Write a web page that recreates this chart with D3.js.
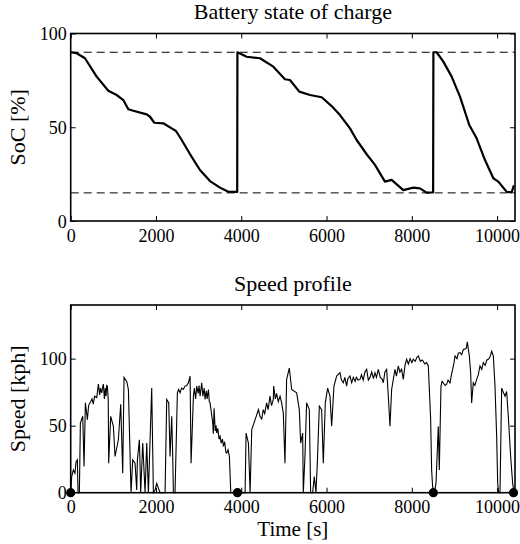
<!DOCTYPE html>
<html>
<head>
<meta charset="utf-8">
<script src="https://cdn.jsdelivr.net/npm/d3@7"></script>
<style>
  body { margin: 0; background: #fff; }
  svg { display: block; }
  text { font-family: "Liberation Serif", "Times New Roman", serif; fill: #000; }
</style>
</head>
<body>
<svg id="chart" width="520" height="544"></svg>
<script>
// state of charge [%], as [time s, soc]
const socPoints = [[0, 90], [140, 89.5], [335, 86.8], [609, 77], [882, 69.5], [1078, 67.2],
  [1234, 64.5], [1351, 59.6], [1468, 58.8], [1782, 56.9], [1860, 55.6], [1961, 52.4], [2172, 52.1],
  [2368, 49.4], [2469, 48], [2603, 43.2], [2797, 35.7], [3032, 27.2], [3267, 21.3], [3501, 17.8],
  [3697, 15.6], [3905, 15.5], [3910, 90], [4126, 87.6], [4439, 86.8], [4752, 82.3], [5025, 75.6],
  [5142, 75.2], [5361, 69], [5612, 67.2], [5886, 66], [6120, 61.3], [6315, 56.5], [6550, 49.4],
  [6706, 43.2], [6941, 35.6], [7136, 29.9], [7370, 21], [7527, 21.9], [7800, 16.5], [8034, 17.8],
  [8191, 17.4], [8348, 15.1], [8500, 15.3], [8506, 90], [8582, 90], [8739, 85], [8934, 77],
  [9130, 66.3], [9348, 51.2], [9520, 44.1], [9716, 32.5], [9912, 22.8], [10029, 21], [10224, 15.6],
  [10341, 15.3], [10395, 19]];
const socBounds = [90, 15];

// vehicle speed [kph], as [time s, speed]
const speedPoints = [[0, 0], [23, 12], [63, 17], [100, 14.5], [125, 23], [156, 24.5], [172, 0],
  [203, 0], [227, 52], [282, 57], [313, 19.5], [344, 67], [391, 54.5], [420, 65], [454, 67],
  [500, 70], [530, 66], [560, 72], [610, 71], [630, 76], [649, 81], [680, 73], [700, 78],
  [727, 74.5], [750, 79], [766, 81], [790, 70], [810, 78], [829, 72], [845, 80], [860, 79.5],
  [880, 70], [891, 22], [938, 57], [1001, 49.5], [1040, 27], [1118, 39.5], [1173, 66], [1220, 14.5],
  [1251, 86], [1314, 83], [1353, 77], [1415, 0], [1454, 24.5], [1509, 22], [1548, 2], [1564, 24.5],
  [1611, 39.5], [1642, 0], [1689, 37], [1744, 0], [1783, 37], [1822, 0], [1900, 78], [1939, 0],
  [1978, 2], [2017, 7], [2096, 0], [2213, 0], [2252, 69.5], [2299, 67], [2330, 27], [2369, 57],
  [2393, 27], [2408, 0], [2447, 0], [2502, 74.5], [2530, 77], [2565, 74.5], [2600, 78], [2640, 77],
  [2682, 79.5], [2720, 80], [2760, 82], [2800, 87], [2823, 22], [2878, 72], [2900, 78], [2930, 70],
  [2956, 79.5], [2990, 74], [3010, 80], [3034, 72], [3073, 82], [3100, 72], [3130, 78],
  [3151, 69.5], [3180, 76], [3200, 70], [3230, 77], [3250, 68], [3269, 67], [3331, 52], [3345, 44],
  [3363, 63], [3390, 46], [3410, 50], [3425, 44.5], [3450, 48], [3480, 40], [3503, 42], [3530, 37],
  [3560, 40], [3582, 34.5], [3610, 38], [3640, 30], [3660, 29.5], [3690, 32], [3722, 27],
  [3754, 0], [4090, 0], [4113, 44.5], [4168, 37], [4207, 0], [4246, 47], [4325, 54.5], [4403, 62],
  [4439, 57], [4480, 55], [4517, 62], [4550, 59], [4595, 67], [4630, 62], [4674, 72], [4710, 65],
  [4752, 69.5], [4760, 79.5], [4800, 70], [4830, 74], [4869, 68], [4910, 72], [4947, 67],
  [4986, 59.5], [5025, 22], [5064, 84.5], [5127, 93], [5182, 77], [5299, 74.5], [5361, 62],
  [5393, 37], [5440, 44.5], [5455, 0], [5494, 27], [5533, 67], [5596, 62], [5627, 0], [5674, 0],
  [5713, 12], [5752, 0], [5784, 22], [5831, 64.5], [5885, 62], [5924, 22], [5971, 67], [6026, 78],
  [6081, 72], [6120, 49.5], [6174, 79.5], [6237, 87], [6315, 89.5], [6350, 84], [6393, 82],
  [6430, 86], [6471, 79.5], [6500, 85], [6550, 87], [6590, 82], [6628, 86], [6670, 83], [6700, 86],
  [6740, 84], [6784, 84.5], [6820, 88], [6860, 84], [6900, 90], [6941, 92], [6980, 84], [7019, 86],
  [7060, 90], [7100, 85], [7136, 89.5], [7170, 86], [7214, 92], [7260, 86], [7300, 85], [7331, 82],
  [7370, 90], [7410, 92], [7449, 72], [7488, 49.5], [7527, 77], [7605, 92], [7640, 87],
  [7683, 94.5], [7720, 90], [7761, 92], [7800, 84.5], [7840, 95], [7878, 99.5], [7920, 96],
  [7960, 100], [8000, 97], [8034, 99.5], [8080, 98], [8120, 101], [8152, 102], [8200, 98],
  [8240, 99], [8269, 98], [8300, 96], [8348, 97], [8387, 94.5], [8442, 54.5], [8465, 17],
  [8488, 4.5], [8527, 0], [8567, 7], [8621, 49.5], [8645, 17], [8684, 79.5], [8710, 83], [8738, 82],
  [8780, 80], [8817, 81], [8850, 84], [8895, 82], [8930, 88], [8958, 92], [8990, 97], [9013, 102],
  [9060, 100], [9090, 104], [9130, 104.5], [9170, 103], [9210, 107], [9247, 107], [9280, 108],
  [9302, 112.5], [9349, 102], [9380, 89.5], [9403, 67], [9442, 82], [9480, 80], [9520, 84.5],
  [9560, 88], [9599, 94.5], [9640, 92], [9677, 97], [9720, 95], [9760, 99], [9794, 99.5],
  [9830, 101], [9873, 105.5], [9912, 102], [9951, 79.5], [9990, 42], [10014, 7], [10037, 0],
  [10068, 0], [10107, 78], [10185, 72], [10224, 75.5], [10263, 57], [10318, 27], [10365, 7],
  [10396, 0]];
// recharge events, marked on the speed axis
const chargeTimes = [0, 3910, 8505, 10385];

const xTicks = [0, 2000, 4000, 6000, 8000, 10000];
const socTicks = [0, 50, 100];
const speedTicks = [0, 50, 100];

const svg = d3.select('#chart');
const left = 70.7, right = 515;
const x = d3.scaleLinear().domain([0, 10420]).range([left, right]);

// boxed axes with inward ticks on all four sides, labels bottom and left only
function frame(g, y, yTicks, top, bottom) {
  const tick = 5;
  g.append('g').attr('transform', `translate(0,${bottom})`)
    .call(d3.axisBottom(x).tickValues(xTicks).tickFormat(d3.format('d'))
      .tickSize(-tick).tickPadding(8));
  g.append('g').attr('transform', `translate(0,${top})`)
    .call(d3.axisTop(x).tickValues(xTicks).tickFormat('').tickSize(-tick));
  g.append('g').attr('transform', `translate(${left},0)`)
    .call(d3.axisLeft(y).tickValues(yTicks).tickSize(-tick).tickPadding(4))
    .call(a => a.selectAll('text').attr('dy', '0.34em'));
  g.append('g').attr('transform', `translate(${right},0)`)
    .call(d3.axisRight(y).tickValues(yTicks).tickFormat('').tickSize(-tick));
  g.selectAll('.domain').remove();
  g.selectAll('g').attr('font-family', null).attr('font-size', 18);
  g.selectAll('.tick line').attr('stroke', '#000').attr('stroke-width', 1);
  g.selectAll('.tick text').attr('fill', '#000');
  g.append('rect').attr('x', left).attr('y', top)
    .attr('width', right - left).attr('height', bottom - top)
    .attr('fill', 'none').attr('stroke', '#000').attr('stroke-width', 1.6);
}

// --- battery state of charge
const soc = svg.append('g');
const ySoc = d3.scaleLinear().domain([0, 100]).range([221, 33.5]);
soc.selectAll('line.bound').data(socBounds).join('line')
  .attr('class', 'bound')
  .attr('x1', left).attr('x2', right)
  .attr('y1', d => ySoc(d)).attr('y2', d => ySoc(d))
  .attr('stroke', '#000').attr('stroke-width', 1).attr('stroke-dasharray', '8,5');
soc.append('path')
  .datum(socPoints)
  .attr('fill', 'none').attr('stroke', '#000').attr('stroke-width', 2.2)
  .attr('stroke-linejoin', 'round')
  .attr('d', d3.line().x(d => x(d[0])).y(d => ySoc(d[1])));
frame(soc, ySoc, socTicks, 33.5, 221);
soc.append('text').attr('x', (left + right) / 2).attr('y', 19)
  .attr('text-anchor', 'middle').attr('font-size', 22).text('Battery state of charge');
soc.append('text')
  .attr('transform', `translate(25,${ySoc(50)}) rotate(-90)`)
  .attr('text-anchor', 'middle').attr('font-size', 22).text('SoC [%]');

// --- speed profile
const spd = svg.append('g');
const ySpd = d3.scaleLinear().domain([0, 140]).range([492.7, 305]);
spd.append('path')
  .datum(speedPoints)
  .attr('fill', 'none').attr('stroke', '#000').attr('stroke-width', 1.1)
  .attr('d', d3.line().x(d => x(d[0])).y(d => ySpd(d[1])));
frame(spd, ySpd, speedTicks, 305, 492.7);
spd.selectAll('circle').data(chargeTimes).join('circle')
  .attr('cx', d => x(d)).attr('cy', ySpd(0)).attr('r', 4.6).attr('fill', '#000');
spd.append('text').attr('x', (left + right) / 2).attr('y', 290.5)
  .attr('text-anchor', 'middle').attr('font-size', 22).text('Speed profile');
spd.append('text')
  .attr('transform', `translate(25,${(305 + 492.7) / 2}) rotate(-90)`)
  .attr('text-anchor', 'middle').attr('font-size', 22).text('Speed [kph]');
spd.append('text').attr('x', (left + right) / 2).attr('y', 536)
  .attr('text-anchor', 'middle').attr('font-size', 21).text('Time [s]');
</script>
</body>
</html>
